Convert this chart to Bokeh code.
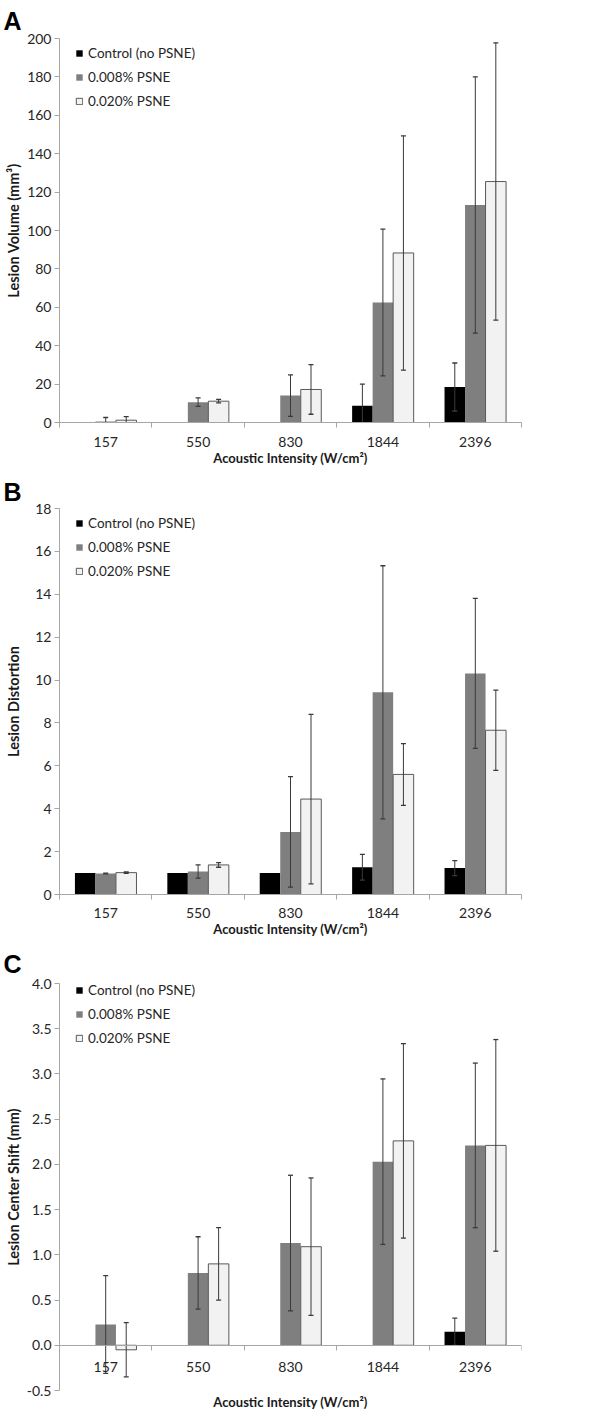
import numpy as np
from bokeh.plotting import figure
from bokeh.models import (ColumnDataSource, FixedTicker, Legend, LegendItem, LinearAxis,
                          NumeralTickFormatter, Range1d, Title)
from bokeh.layouts import column
from bokeh.embed import file_html
from bokeh.resources import INLINE

NaN = float("nan")

# ---------------- data ----------------
intensities = ["157", "550", "830", "1844", "2396"]
series_names = ["Control (no PSNE)", "0.008% PSNE", "0.020% PSNE"]

# Panel A - lesion volume (mm3)
vol_control = [0.0, 0.0, 0.0, 8.7, 18.5]
vol_control_err = [NaN, NaN, NaN, 11.3, 12.5]
vol_008 = [0.5, 10.6, 14.0, 62.5, 113.3]
vol_008_err = [2.1, 2.2, 10.8, 38.2, 66.7]
vol_020 = [1.2, 11.1, 17.2, 88.3, 125.5]
vol_020_err = [1.9, 0.9, 12.9, 61.0, 72.2]
vol_ticks = [0, 20, 40, 60, 80, 100, 120, 140, 160, 180, 200]

# Panel B - lesion distortion
dist_control = [1.0, 1.0, 1.0, 1.27, 1.23]
dist_control_err = [NaN, NaN, NaN, 0.60, 0.35]
dist_008 = [0.98, 1.07, 2.92, 9.43, 10.31]
dist_008_err = [0.02, 0.31, 2.58, 5.90, 3.50]
dist_020 = [1.02, 1.38, 4.45, 5.60, 7.66]
dist_020_err = [0.03, 0.11, 3.95, 1.44, 1.87]
dist_ticks = [0, 2, 4, 6, 8, 10, 12, 14, 16, 18]

# Panel C - lesion center shift (mm)
shift_control = [0.0, 0.0, 0.0, 0.0, 0.15]
shift_control_err = [NaN, NaN, NaN, NaN, 0.15]
shift_008 = [0.23, 0.80, 1.13, 2.03, 2.21]
shift_008_err = [0.54, 0.40, 0.75, 0.915, 0.91]
shift_020 = [-0.05, 0.90, 1.09, 2.26, 2.21]
shift_020_err = [0.30, 0.40, 0.76, 1.075, 1.17]
shift_ticks = [-0.5, 0.0, 0.5, 1.0, 1.5, 2.0, 2.5, 3.0, 3.5, 4.0]

# ---------------- style ----------------
FONT = "Lato"
BAR_W = 0.222
OFFSETS = [-BAR_W, 0.0, BAR_W]
FILLS = ["#000000", "#7f7f7f", "#f2f2f2"]
LINES = [None, None, "#595959"]
AXIS_COLOR = "#a6a6a6"
TEXT_COLOR = "#262626"
TITLE_COLOR = "#1a1a1a"
ERR_COLOR = "#3a3a3a"
XTITLE = "Acoustic Intensity (W/cm\u00b2)"
XTITLE_SIZE = "13px"
YTITLE_SIZE = "14.5px"


def style_xtitle(ax, standoff):
    ax.axis_label = XTITLE
    ax.axis_label_text_font = FONT
    ax.axis_label_text_font_style = "bold"
    ax.axis_label_text_font_size = XTITLE_SIZE
    ax.axis_label_text_color = TITLE_COLOR
    ax.axis_label_standoff = standoff


def make_panel(letter, ytitle, yticks, fmt, series, errors, height, b_top, b_bottom,
               letter_standoff, ylab_standoff, xlab_standoff, cross_zero=False):
    ymin, ymax = yticks[0], yticks[-1]
    p = figure(width=600, height=height,
               x_range=Range1d(0.5, len(intensities) + 0.5),
               y_range=Range1d(ymin, ymax),
               output_backend="svg", toolbar_location=None,
               min_border_left=59, min_border_right=79,
               min_border_top=b_top, min_border_bottom=b_bottom)
    p.outline_line_color = None
    p.xgrid.visible = False
    p.ygrid.visible = False
    p.background_fill_color = "white"
    p.border_fill_color = "white"

    # panel letter
    p.title = Title(text=letter, align="left", offset=-56, standoff=letter_standoff,
                    text_font="Liberation Sans", text_font_style="bold",
                    text_font_size="25px", text_color="black")

    centers = np.arange(1, len(intensities) + 1)
    renderers = []
    err_data = []
    for k, (vals, errs) in enumerate(zip(series, errors)):
        x = centers + OFFSETS[k]
        v = np.asarray(vals, dtype=float)
        e = np.asarray(errs, dtype=float)
        src = ColumnDataSource(dict(x=x, top=v))
        r = p.vbar(x="x", top="top", bottom=0, width=BAR_W, source=src,
                   fill_color=FILLS[k], line_color=LINES[k], line_width=1)
        renderers.append(r)
        ok = ~np.isnan(e)
        err_data.append((x[ok], (v + e)[ok], (v - e)[ok]))

    for x, up, lo in err_data:
        esrc = ColumnDataSource(dict(x=x, up=up, lo=lo))
        p.segment(x0="x", y0="lo", x1="x", y1="up", source=esrc,
                  line_color=ERR_COLOR, line_width=1)
        p.scatter(x="x", y="up", source=esrc, marker="dash", size=5,
                  line_color=ERR_COLOR, line_width=1.3)
        p.scatter(x="x", y="lo", source=esrc, marker="dash", size=5,
                  line_color=ERR_COLOR, line_width=1.3)

    # y axis
    ya = p.yaxis[0]
    ya.ticker = FixedTicker(ticks=list(yticks))
    ya.formatter = NumeralTickFormatter(format=fmt)
    ya.axis_line_color = AXIS_COLOR
    ya.major_tick_line_color = AXIS_COLOR
    ya.major_tick_out = 5
    ya.major_tick_in = 0
    ya.minor_tick_line_color = None
    ya.minor_tick_out = 0
    ya.minor_tick_in = 0
    ya.major_label_standoff = 3
    ya.major_label_text_font = FONT
    ya.major_label_text_font_size = "14px"
    ya.major_label_text_color = TEXT_COLOR
    ya.axis_label = ytitle
    ya.axis_label_text_font = FONT
    ya.axis_label_text_font_style = "bold"
    ya.axis_label_text_font_size = YTITLE_SIZE
    ya.axis_label_text_color = TITLE_COLOR
    ya.axis_label_standoff = ylab_standoff

    # x axis with category labels, tick marks between categories
    xa = p.xaxis[0]
    if cross_zero:
        xa.fixed_location = 0
    xa.ticker = FixedTicker(ticks=[int(c) for c in centers],
                            minor_ticks=[float(c) - 0.5 for c in centers] + [float(centers[-1]) + 0.5])
    xa.major_label_overrides = {int(c): lab for c, lab in zip(centers, intensities)}
    xa.axis_line_color = AXIS_COLOR
    xa.major_tick_out = 0
    xa.major_tick_in = 0
    xa.major_tick_line_color = None
    xa.minor_tick_line_color = AXIS_COLOR
    xa.minor_tick_out = 5
    xa.minor_tick_in = 0
    xa.major_label_standoff = xlab_standoff
    xa.major_label_text_font = FONT
    xa.major_label_text_font_size = "14px"
    xa.major_label_text_color = TEXT_COLOR
    if cross_zero:
        tax = LinearAxis(ticker=FixedTicker(ticks=[]), axis_line_color=None,
                         major_tick_line_color=None, minor_tick_line_color=None,
                         major_tick_out=0, major_tick_in=0, minor_tick_out=0, minor_tick_in=0,
                         major_label_standoff=0, major_label_text_font_size="0px")
        style_xtitle(tax, 3)
        p.add_layout(tax, "below")
    else:
        style_xtitle(xa, 0)

    # legend
    frame_h = height - b_top - b_bottom
    leg_h = 3 * 20 + 2 * 4
    legend = Legend(items=[LegendItem(label=n, renderers=[r]) for n, r in zip(series_names, renderers)],
                    location=(16, frame_h - leg_h - (5 if letter != "C" else 0)),
                    padding=0, spacing=4, label_height=20, glyph_height=8, glyph_width=8,
                    label_standoff=5, border_line_color=None, background_fill_alpha=0,
                    label_text_font=FONT, label_text_font_size="13.5px",
                    label_text_color=TEXT_COLOR)
    p.add_layout(legend)
    return p


pA = make_panel("A", "Lesion Volume (mm\u00b3)", vol_ticks, "0",
                [vol_control, vol_008, vol_020], [vol_control_err, vol_008_err, vol_020_err],
                height=470, b_top=38, b_bottom=48, letter_standoff=7, ylab_standoff=2,
                xlab_standoff=9)
pB = make_panel("B", "Lesion Distortion", dist_ticks, "0",
                [dist_control, dist_008, dist_020], [dist_control_err, dist_008_err, dist_020_err],
                height=470, b_top=38, b_bottom=46, letter_standoff=5, ylab_standoff=10,
                xlab_standoff=8)
pC = make_panel("C", "Lesion Center Shift (mm)", shift_ticks, "0.0",
                [shift_control, shift_008, shift_020], [shift_control_err, shift_008_err, shift_020_err],
                height=472, b_top=43, b_bottom=19, letter_standoff=12, ylab_standoff=2,
                xlab_standoff=12, cross_zero=True)

layout = column(pA, pB, pC, spacing=0)
open("out.html", "w").write(file_html(layout, INLINE))
